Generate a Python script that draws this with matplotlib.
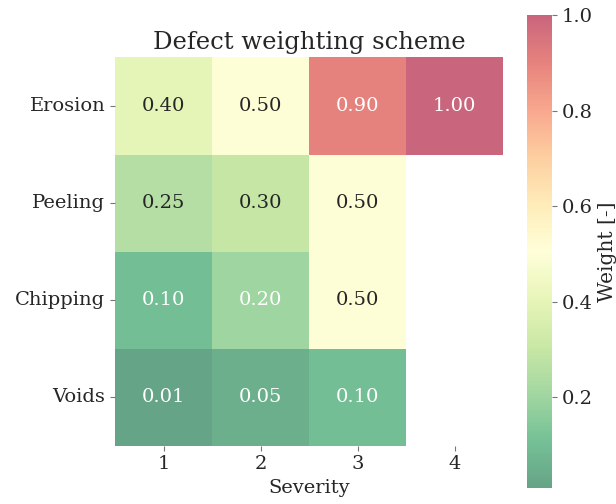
import numpy as np
import pandas as pd
import matplotlib
matplotlib.use("Agg")
import matplotlib.pyplot as plt
import seaborn as sns

plt.rcParams['font.family'] = ['DejaVu Serif']
plt.rcParams['text.color'] = '#262626'
plt.rcParams['xtick.color'] = '#262626'
plt.rcParams['ytick.color'] = '#262626'
plt.rcParams['axes.labelcolor'] = '#262626'

defects = ["Erosion", "Peeling", "Chipping", "Voids"]
severity = [1, 2, 3, 4]
erosion = [0.40, 0.50, 0.90, 1.00]
peeling = [0.25, 0.30, 0.50, np.nan]
chipping = [0.10, 0.20, 0.50, np.nan]
voids = [0.01, 0.05, 0.10, np.nan]

weights = pd.DataFrame([erosion, peeling, chipping, voids], index=defects, columns=severity)

fig = plt.figure(figsize=(6.16, 5.04), dpi=100)
ax = fig.add_axes([0.1867, 0.0317, 0.63, 0.9385])
cax = fig.add_axes([0.8555, 0.0317, 0.0406, 0.9385])

sns.heatmap(weights, ax=ax, cbar_ax=cax, cmap="RdYlGn_r", alpha=0.6, annot=True, fmt=".2f",
            square=True, annot_kws={"fontsize": 14},
            cbar_kws={"label": "Weight [-]"})

ax.set_title("Defect weighting scheme", fontsize=17.5)
ax.set_xlabel("Severity", fontsize=14)
ax.set_ylabel("")
ax.tick_params(labelsize=14, color="#777777")
ax.set_yticklabels(defects, rotation=0)
cax.tick_params(labelsize=14, color="#777777")
cax.yaxis.label.set_size(14.5)

fig.savefig("out.png", dpi=100)
